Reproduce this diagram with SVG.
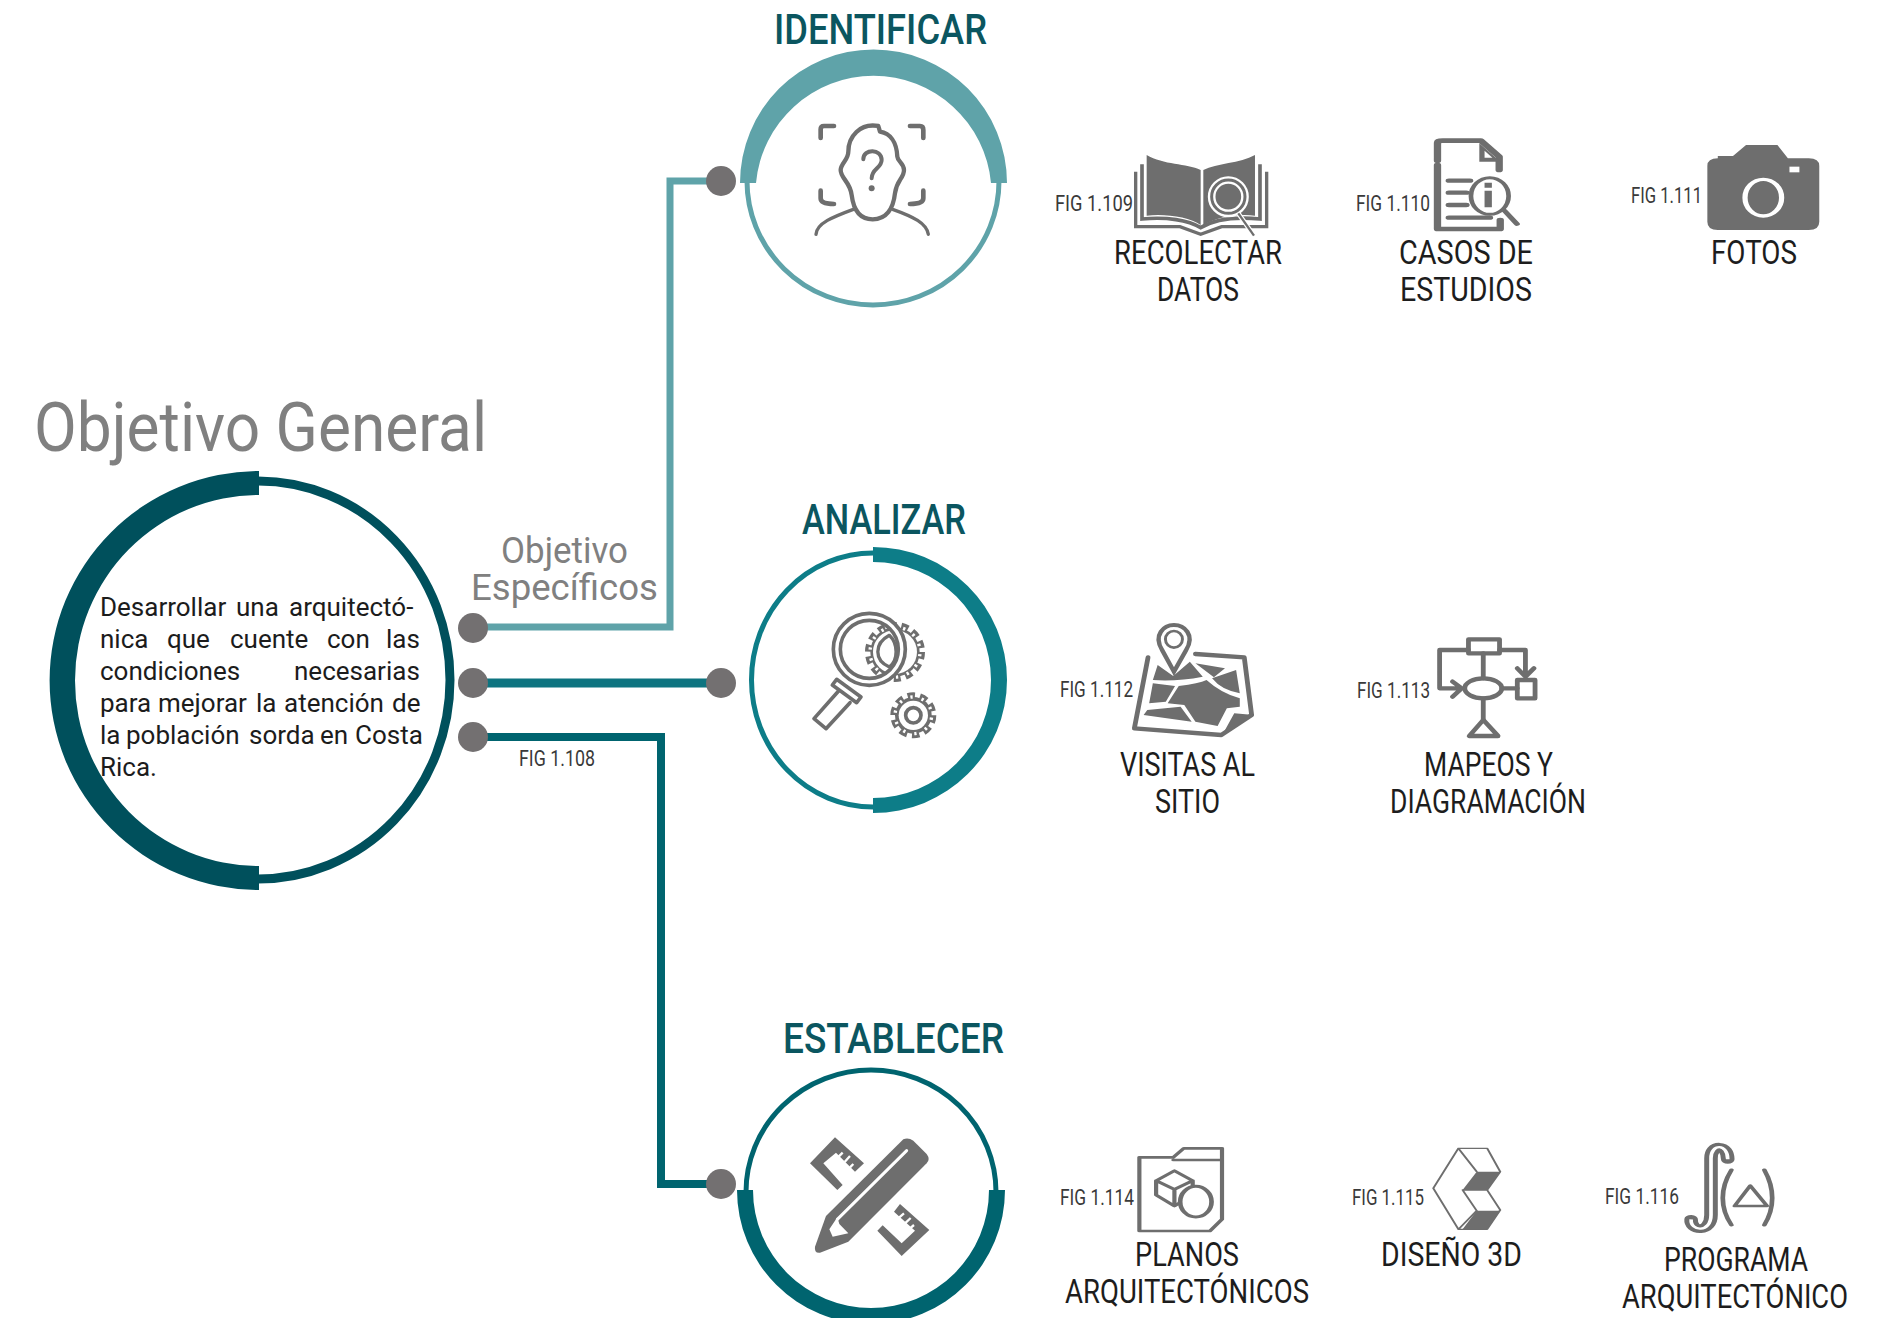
<svg xmlns="http://www.w3.org/2000/svg" width="1885" height="1318" viewBox="0 0 1885 1318">
<style>
text{font-family:"Roboto","Liberation Sans",sans-serif}
.head{font-size:43px;font-weight:500;fill:#0b5660}
.title{font-size:68px;fill:#808080}
.sub{font-size:37px;fill:#808080}
.body{font-size:26px;fill:#1c1c1c}
.cap{font-size:33px;fill:#1d1d1d}
.fig{font-size:22px;fill:#3a3a3a}
.dot{fill:#737071}
.wire{fill:none}
.g{fill:#6e6e6e;stroke:none}
.l{fill:none;stroke:#6e6e6e;stroke-linecap:round;stroke-linejoin:round}
.w{fill:none;stroke:#fff}
.tg{fill:none;stroke:#6e6e6e}
.tw{fill:none;stroke:#fff}
</style>
<rect width="1885" height="1318" fill="#fff"/>
<g id="connectors">
<path class="wire" stroke="#5fa3a9" stroke-width="7" d="M473 627H670V181H721"/>
<path class="wire" stroke="#0d7480" stroke-width="9" d="M473 683H721"/>
<path class="wire" stroke="#00646f" stroke-width="8" d="M473 737H661V1184H721"/>
<circle class="dot" cx="473" cy="628" r="15"/>
<circle class="dot" cx="473" cy="683" r="15"/>
<circle class="dot" cx="473" cy="737" r="15"/>
<circle class="dot" cx="721" cy="181" r="15"/>
<circle class="dot" cx="721" cy="683" r="15"/>
<circle class="dot" cx="721" cy="1184" r="15"/>
</g>
<g id="objetivo-general">
<text class="title" x="34" y="451" textLength="453" lengthAdjust="spacingAndGlyphs">Objetivo General</text>
<ellipse cx="258" cy="680" rx="192" ry="199" fill="#fff" stroke="#00505c" stroke-width="9"/>
<path fill="#00505c" d="M259 471A209 209 0 0 0 259 890V866A184 185.5 0 0 1 259 495Z"/>
<text class="body" y="616"><tspan x="100">Desarrollar</tspan><tspan x="236">una</tspan><tspan x="289">arquitectó-</tspan></text>
<text class="body" y="648"><tspan x="100">nica</tspan><tspan x="167">que</tspan><tspan x="230">cuente</tspan><tspan x="327">con</tspan><tspan x="386">las</tspan></text>
<text class="body" y="680"><tspan x="100">condiciones</tspan><tspan x="294">necesarias</tspan></text>
<text class="body" y="712"><tspan x="100">para</tspan><tspan x="158">mejorar</tspan><tspan x="256">la</tspan><tspan x="284">atención</tspan><tspan x="392">de</tspan></text>
<text class="body" y="744"><tspan x="100">la</tspan><tspan x="126">población</tspan><tspan x="249">sorda</tspan><tspan x="320">en</tspan><tspan x="355">Costa</tspan></text>
<text class="body" y="776"><tspan x="100">Rica.</tspan></text>
</g>
<g id="objetivo-especificos">
<text class="sub" x="501" y="563" textLength="127" lengthAdjust="spacingAndGlyphs">Objetivo</text>
<text class="sub" x="471" y="600" textLength="187" lengthAdjust="spacingAndGlyphs">Específicos</text>
<text class="fig" x="519" y="766" textLength="76" lengthAdjust="spacingAndGlyphs">FIG 1.108</text>
</g>
<g id="identificar">
<text class="head" x="774" y="44" textLength="213" lengthAdjust="spacingAndGlyphs">IDENTIFICAR</text>
<ellipse cx="873" cy="181" rx="126" ry="124" fill="none" stroke="#5fa3a9" stroke-width="5"/>
<path fill="#5fa3a9" d="M740 183A133.5 133.5 0 0 1 1007 183H991A118 118 0 0 0 756 183Z"/>
<g transform="translate(720 0) scale(.3333)">
<path class="l" stroke-width="14" d="M342 378H312Q302 378 302 388V414M570 378H600Q610 378 610 390V414M302 572V595Q302 612 342 612M610 572V595Q610 612 570 612"/>
<path class="l" stroke-width="13" d="M475 378L480 395C510 400 530 425 532 470C533 485 552 490 552 510C552 535 530 540 525 580C520 625 500 658 458 658C415 658 400 625 395 585C390 545 362 535 362 510C362 490 385 480 385 455C385 410 420 368 475 378Z"/>
<path class="l" stroke-width="10" d="M288 703C290 670 340 650 400 628M518 628C580 650 620 670 625 703"/>
<path class="l" stroke-width="12" d="M430 478C430 445 485 445 485 480C485 505 455 505 455 535"/>
<circle class="g" cx="455" cy="565" r="9"/>
</g>
</g>
<g id="analizar">
<text class="head" x="802" y="534" textLength="164" lengthAdjust="spacingAndGlyphs">ANALIZAR</text>
<ellipse cx="873" cy="680" rx="121.5" ry="127" fill="none" stroke="#0d7d88" stroke-width="5"/>
<path fill="#0d7d88" d="M873 547A134 133 0 0 1 873 813V798A118 118 0 0 0 873 562Z"/>
<g transform="translate(800 602) scale(.3333)">
<circle class="g" cx="285" cy="150" r="74"/>
<circle class="tg" cx="285" cy="150" r="80" stroke-width="20" pathLength="100" stroke-dasharray="4.2 2.94"/>
<circle class="tw" cx="285" cy="150" r="75" stroke-width="10" pathLength="100" stroke-dasharray="1.5 5.64" stroke-dashoffset="-1.35"/>
<circle cx="285" cy="150" r="66" fill="#fff"/>
<circle class="w" cx="208" cy="142" r="97" stroke-width="20"/>
<circle class="l" cx="208" cy="142" r="108" stroke-width="11"/>
<circle class="l" cx="208" cy="142" r="87" stroke-width="11"/>
<path class="l" stroke-width="10" d="M268 100C222 125 222 175 268 195C295 175 295 125 268 100Z"/>
<path class="l" fill="#fff" stroke-width="11" d="M110 232L183 285L170 302L97 249ZM115 268L42 350L78 380L150 302"/>
<circle class="g" cx="340" cy="340" r="55"/>
<circle class="tg" cx="340" cy="340" r="60" stroke-width="18" pathLength="100" stroke-dasharray="6 4"/>
<circle class="tw" cx="340" cy="340" r="55" stroke-width="10" pathLength="100" stroke-dasharray="2 8" stroke-dashoffset="-2"/>
<circle cx="340" cy="340" r="44" fill="#fff"/>
<circle class="l" cx="340" cy="340" r="23" stroke-width="11"/>
</g>
</g>
<g id="establecer">
<text class="head" x="783" y="1053" textLength="221" lengthAdjust="spacingAndGlyphs">ESTABLECER</text>
<ellipse cx="871" cy="1192" rx="125" ry="122" fill="none" stroke="#00646f" stroke-width="5"/>
<path fill="#00646f" d="M737 1190H753A118 118 0 0 0 989 1190H1005A134 134 0 0 1 737 1190Z"/>
<g transform="translate(800 1130) scale(.3333)">
<path class="g" d="M105 22L30 100L112 180L128 165L70 100L108 68L165 125L192 100Z"/>
<path class="w" stroke-width="7" d="M116 80L128 68M134 96L150 78M150 112L160 102"/>
<path class="g" d="M300 222L388 300L305 378L232 302L248 286L305 340L345 302L282 245Z"/>
<path class="w" stroke-width="7" d="M298 262L312 250M315 280L332 264M330 295L342 285"/>
<path class="g" d="M310 28Q325 22 340 32L380 72Q392 88 380 100L145 335L60 368Q42 370 45 350L78 258Z"/>
<path class="w" stroke-width="9" stroke-linecap="round" d="M320 62L112 268"/>
<path fill="#fff" d="M112 262L88 298L98 320L145 310L118 282Z"/>
</g>
</g>
<g id="recolectar-datos">
<text class="fig" x="1055" y="211" textLength="78" lengthAdjust="spacingAndGlyphs">FIG 1.109</text>
<text class="cap" x="1114" y="264" textLength="168" lengthAdjust="spacingAndGlyphs">RECOLECTAR</text>
<text class="cap" x="1157" y="301" textLength="82" lengthAdjust="spacingAndGlyphs">DATOS</text>
<g transform="translate(1130 145) scale(.3333)">
<path class="g" d="M50 30C100 60 170 55 212 75V240C180 215 100 205 50 212Z"/>
<path class="g" d="M220 75C260 55 330 55 375 30V212C330 205 260 215 220 240Z"/>
<path class="tg" stroke-width="11" d="M36 58V222C110 215 175 225 212 248C250 225 315 215 390 222V58"/>
<path class="tg" stroke-width="10" d="M17 80V245H150L212 268L275 245H410V80"/>
<circle cx="295" cy="155" r="58" fill="#6e6e6e" stroke="#fff" stroke-width="7"/>
<circle class="w" cx="295" cy="155" r="42" stroke-width="7"/>
<path class="w" stroke-width="14" d="M325 205L372 272"/>
<path class="tg" stroke-width="7" d="M325 205L372 272"/>
</g>
</g>
<g id="casos-de-estudios">
<text class="fig" x="1356" y="211" textLength="74" lengthAdjust="spacingAndGlyphs">FIG 1.110</text>
<text class="cap" x="1399" y="264" textLength="134" lengthAdjust="spacingAndGlyphs">CASOS DE</text>
<text class="cap" x="1400" y="301" textLength="132" lengthAdjust="spacingAndGlyphs">ESTUDIOS</text>
<g transform="translate(1040 120) scale(.523 .3333)">
<path class="l" stroke-width="14" d="M760 122V68Q760 62 770 62H843L878 110V150M760 135V327H880V300"/>
<path class="g" d="M840 70V125H880Z"/>
<path fill="#fff" d="M850 92V113H865Z"/>
<path class="l" stroke-width="13" d="M782 182H822M782 218H815M782 255H815M782 293H860"/>
<ellipse cx="860" cy="228" rx="36" ry="55" fill="#fff" stroke="#6e6e6e" stroke-width="9"/>
<path class="l" stroke-width="11" d="M888 272L912 312"/>
<path class="g" d="M850 188H864V203H850ZM850 212H864V262H850Z"/>
</g>
</g>
<g id="fotos">
<text class="fig" x="1631" y="203" textLength="71" lengthAdjust="spacingAndGlyphs">FIG 1.111</text>
<text class="cap" x="1711" y="264" textLength="86" lengthAdjust="spacingAndGlyphs">FOTOS</text>
<g transform="translate(1040 120) scale(.523 .3333)">
<path class="g" d="M1296 115V108H1325L1350 75H1410L1430 115H1470Q1490 115 1490 138V305Q1490 330 1470 330H1296Q1276 330 1276 305V138Q1276 115 1296 115Z"/>
<rect x="1433" y="140" width="19" height="17" fill="#fff"/>
<ellipse class="w" cx="1383" cy="233" rx="35" ry="55" stroke-width="10"/>
</g>
</g>
<g id="visitas-al-sitio">
<text class="fig" x="1060" y="697" textLength="73" lengthAdjust="spacingAndGlyphs">FIG 1.112</text>
<text class="cap" x="1120" y="776" textLength="135" lengthAdjust="spacingAndGlyphs">VISITAS AL</text>
<text class="cap" x="1155" y="813" textLength="65" lengthAdjust="spacingAndGlyphs">SITIO</text>
<g transform="translate(1040 600) scale(.37 .3333)">
<path class="l" stroke-width="13" d="M292 172L255 385L490 405L572 345L552 172L420 162"/>
<path class="g" d="M318 195L360 228L405 185L440 230Q370 245 305 240ZM420 190L500 205L470 232ZM305 250L365 258L340 305L295 310ZM375 258Q430 250 450 240Q490 280 540 295L540 320L505 325L480 378L420 365L390 315L345 310ZM465 235L530 210L540 280Q490 270 465 235ZM290 330L380 320L410 365L280 345ZM525 340L578 345L490 410Z"/>
<path fill="#fff" stroke="#6e6e6e" stroke-width="12" d="M362 215L330 150C305 105 335 75 362 75C390 75 420 105 395 150Z"/>
<ellipse cx="362" cy="118" rx="23" ry="25" fill="none" stroke="#6e6e6e" stroke-width="8"/>
</g>
</g>
<g id="mapeos-y-diagramacion">
<text class="fig" x="1357" y="698" textLength="73" lengthAdjust="spacingAndGlyphs">FIG 1.113</text>
<text class="cap" x="1424" y="776" textLength="129" lengthAdjust="spacingAndGlyphs">MAPEOS Y</text>
<text class="cap" x="1390" y="813" textLength="196" lengthAdjust="spacingAndGlyphs">DIAGRAMACIÓN</text>
<g transform="translate(1040 600) scale(.37 .3333)">
<rect class="l" x="1158" y="118" width="84" height="42" stroke-width="13"/>
<path class="l" stroke-width="13" d="M1158 150H1080V265H1140M1115 245L1140 265L1115 290M1242 150H1312V225M1290 205L1312 230L1335 205M1198 160V235M1198 295V360M1248 265H1290"/>
<ellipse class="l" cx="1198" cy="265" rx="50" ry="30" stroke-width="13"/>
<rect class="l" x="1290" y="240" width="48" height="55" stroke-width="13"/>
<path class="l" stroke-width="13" d="M1198 360L1160 408H1238Z"/>
</g>
</g>
<g id="planos-arquitectonicos">
<text class="fig" x="1060" y="1205" textLength="74" lengthAdjust="spacingAndGlyphs">FIG 1.114</text>
<text class="cap" x="1135" y="1266" textLength="104" lengthAdjust="spacingAndGlyphs">PLANOS</text>
<text class="cap" x="1065" y="1303" textLength="244" lengthAdjust="spacingAndGlyphs">ARQUITECTÓNICOS</text>
<g transform="translate(1040 1120) scale(.523 .3333)">
<path class="l" stroke-width="8" d="M190 112H255L275 85H348V298L325 333H190ZM255 120H348"/>
<path class="l" stroke-width="8" d="M257 152L292 182V225L257 258L222 225V182ZM222 182L257 208L292 182M257 208V258"/>
<ellipse cx="298" cy="245" rx="30" ry="46" fill="#fff" stroke="#6e6e6e" stroke-width="9"/>
</g>
</g>
<g id="diseno-3d">
<text class="fig" x="1352" y="1205" textLength="72" lengthAdjust="spacingAndGlyphs">FIG 1.115</text>
<text class="cap" x="1381" y="1266" textLength="141" lengthAdjust="spacingAndGlyphs">DISEÑO 3D</text>
<g transform="translate(1040 1120) scale(.523 .3333)">
<path class="l" stroke-width="4" d="M752 205L800 85H855L880 155L855 210L880 270L855 328H800ZM800 85L835 155M808 210L835 272M808 210H855M800 328L835 272"/>
<path class="g" d="M808 210L835 155H880L855 210ZM808 328L835 272H880L855 328Z"/>
</g>
</g>
<g id="programa-arquitectonico">
<text class="fig" x="1605" y="1204" textLength="74" lengthAdjust="spacingAndGlyphs">FIG 1.116</text>
<text class="cap" x="1664" y="1271" textLength="144" lengthAdjust="spacingAndGlyphs">PROGRAMA</text>
<text class="cap" x="1622" y="1308" textLength="226" lengthAdjust="spacingAndGlyphs">ARQUITECTÓNICO</text>
<g transform="translate(1040 1120) scale(.523 .3333)">
<path class="l" stroke-width="26" d="M1315 118C1315 70 1283 70 1283 115V285C1283 340 1243 335 1245 298"/>
<path class="w" stroke-width="7" d="M1315 118C1315 70 1283 70 1283 115V285C1283 340 1243 335 1245 298"/>
<path class="l" stroke-width="9" d="M1322 150C1300 205 1300 265 1322 315M1385 150C1405 205 1405 265 1385 315"/>
<path class="l" stroke-width="8" d="M1358 197L1328 258H1390Z"/>
</g>
</g>
</svg>
